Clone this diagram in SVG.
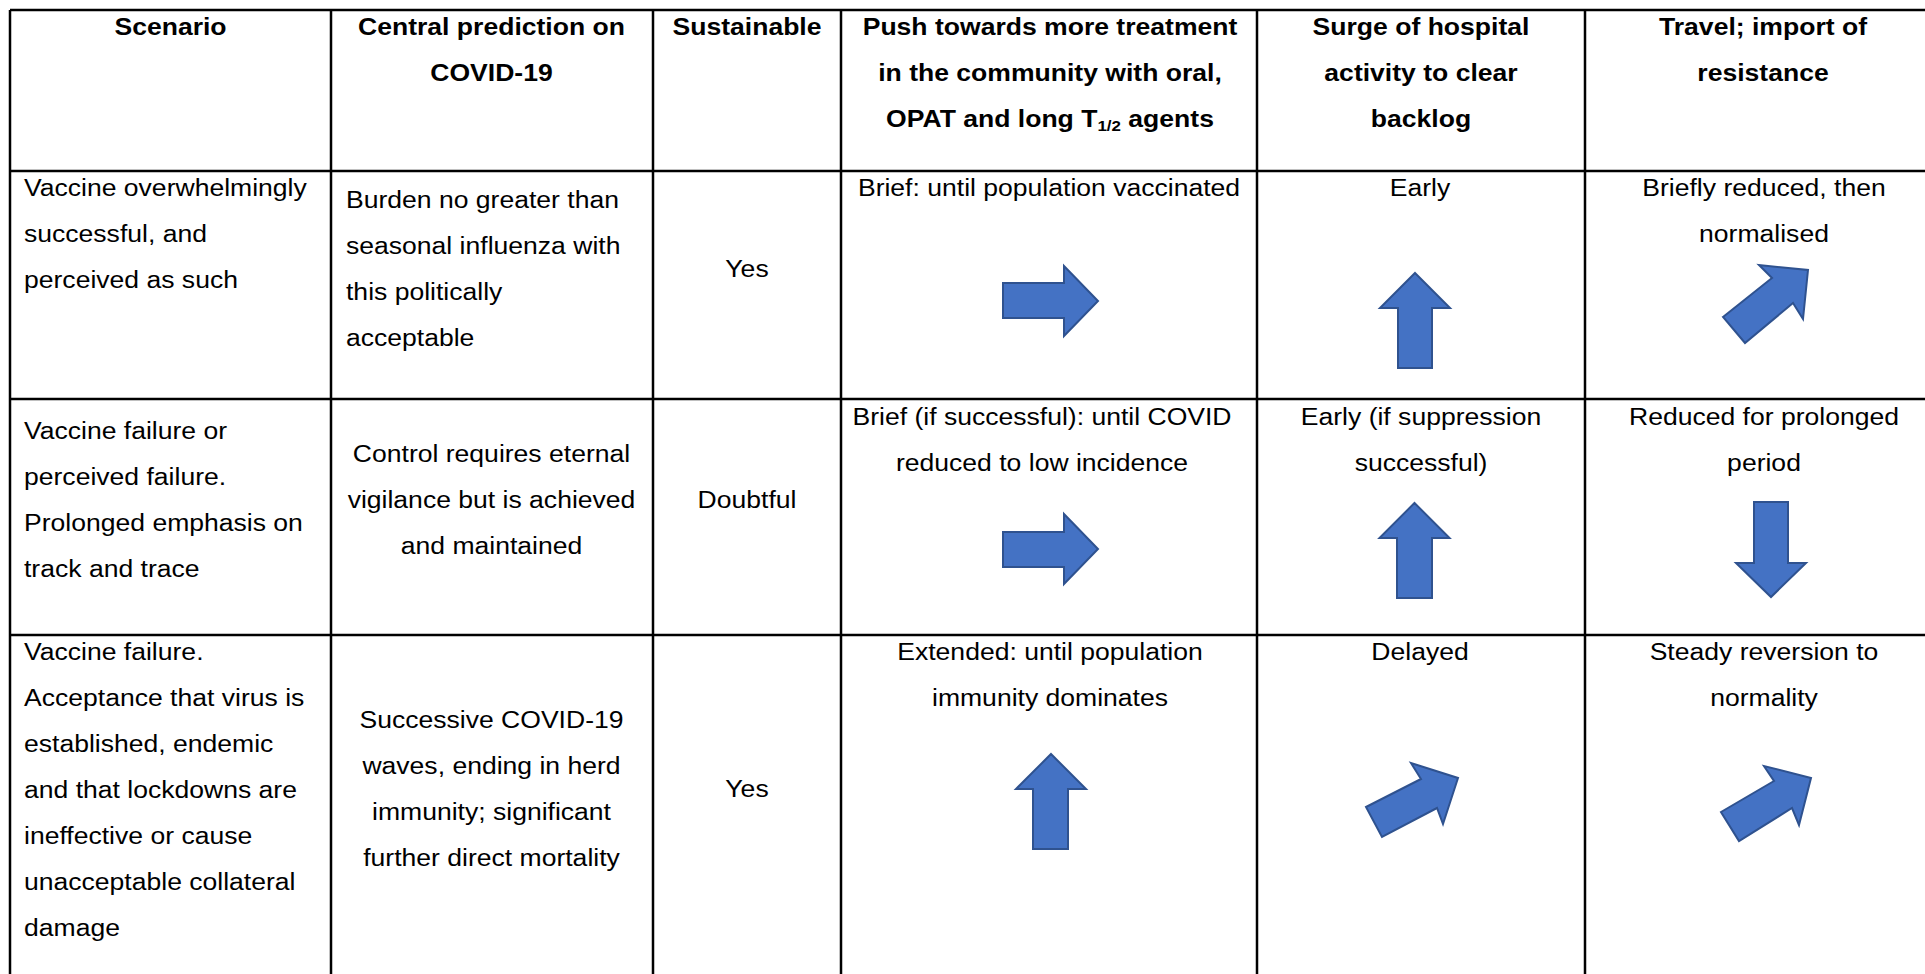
<svg xmlns="http://www.w3.org/2000/svg" width="1925" height="974" viewBox="0 0 1925 974">
<style>
.t{font-family:"Liberation Sans",Arial,sans-serif;font-size:23.5px;fill:#000}
.b{font-weight:bold}
.m{text-anchor:middle}
.grid line{stroke:#000;stroke-width:2.5}
.arr{fill:#4472C4;stroke:#2F528F;stroke-width:2;stroke-linejoin:miter}
</style>
<rect width="1925" height="974" fill="#fff"/>
<g id="grid" class="grid">
<line x1="10" y1="10" x2="1925" y2="10"/>
<line x1="10" y1="171" x2="1925" y2="171"/>
<line x1="10" y1="399" x2="1925" y2="399"/>
<line x1="10" y1="635" x2="1925" y2="635"/>
<line x1="10" y1="10" x2="10" y2="974"/>
<line x1="331" y1="10" x2="331" y2="974"/>
<line x1="653" y1="10" x2="653" y2="974"/>
<line x1="841" y1="10" x2="841" y2="974"/>
<line x1="1257" y1="10" x2="1257" y2="974"/>
<line x1="1585" y1="10" x2="1585" y2="974"/>
</g>
<g id="header">
<text class="t b m" transform="translate(170.5,35) scale(1.13 1)">Scenario</text>
<text class="t b m" transform="translate(491.5,35) scale(1.13 1)"><tspan x="0">Central prediction on</tspan><tspan x="0" dy="46">COVID-19</tspan></text>
<text class="t b m" transform="translate(747,35) scale(1.13 1)">Sustainable</text>
<text class="t b m" transform="translate(1050,35) scale(1.13 1)"><tspan x="0">Push towards more treatment</tspan><tspan x="0" dy="46">in the community with oral,</tspan><tspan x="0" dy="46">OPAT and long T<tspan font-size="15" dy="4">1/2</tspan><tspan dy="-4"> agents</tspan></tspan></text>
<text class="t b m" transform="translate(1421,35) scale(1.13 1)"><tspan x="0">Surge of hospital</tspan><tspan x="0" dy="46">activity to clear</tspan><tspan x="0" dy="46">backlog</tspan></text>
<text class="t b m" transform="translate(1763,35) scale(1.13 1)"><tspan x="0">Travel; import of</tspan><tspan x="0" dy="46">resistance</tspan></text>
</g>
<g id="row1">
<text class="t" transform="translate(24,196) scale(1.13 1)"><tspan x="0">Vaccine overwhelmingly</tspan><tspan x="0" dy="46">successful, and</tspan><tspan x="0" dy="46">perceived as such</tspan></text>
<text class="t" transform="translate(346,208) scale(1.13 1)"><tspan x="0">Burden no greater than</tspan><tspan x="0" dy="46">seasonal influenza with</tspan><tspan x="0" dy="46">this politically</tspan><tspan x="0" dy="46">acceptable</tspan></text>
<text class="t m" transform="translate(747,277) scale(1.13 1)">Yes</text>
<text class="t m" transform="translate(1049,196) scale(1.13 1)">Brief: until population vaccinated</text>
<text class="t m" transform="translate(1420,196) scale(1.13 1)">Early</text>
<text class="t m" transform="translate(1764,196) scale(1.13 1)"><tspan x="0">Briefly reduced, then</tspan><tspan x="0" dy="46">normalised</tspan></text>
</g>
<g id="row2">
<text class="t" transform="translate(24,439) scale(1.13 1)"><tspan x="0">Vaccine failure or</tspan><tspan x="0" dy="46">perceived failure.</tspan><tspan x="0" dy="46">Prolonged emphasis on</tspan><tspan x="0" dy="46">track and trace</tspan></text>
<text class="t m" transform="translate(491.5,462) scale(1.13 1)"><tspan x="0">Control requires eternal</tspan><tspan x="0" dy="46">vigilance but is achieved</tspan><tspan x="0" dy="46">and maintained</tspan></text>
<text class="t m" transform="translate(747,508) scale(1.13 1)">Doubtful</text>
<text class="t m" transform="translate(1042,425) scale(1.13 1)"><tspan x="0">Brief (if successful): until COVID</tspan><tspan x="0" dy="46">reduced to low incidence</tspan></text>
<text class="t m" transform="translate(1421,425) scale(1.13 1)"><tspan x="0">Early (if suppression</tspan><tspan x="0" dy="46">successful)</tspan></text>
<text class="t m" transform="translate(1764,425) scale(1.13 1)"><tspan x="0">Reduced for prolonged</tspan><tspan x="0" dy="46">period</tspan></text>
</g>
<g id="row3">
<text class="t" transform="translate(24,660) scale(1.13 1)"><tspan x="0">Vaccine failure.</tspan><tspan x="0" dy="46">Acceptance that virus is</tspan><tspan x="0" dy="46">established, endemic</tspan><tspan x="0" dy="46">and that lockdowns are</tspan><tspan x="0" dy="46">ineffective or cause</tspan><tspan x="0" dy="46">unacceptable collateral</tspan><tspan x="0" dy="46">damage</tspan></text>
<text class="t m" transform="translate(491.5,728) scale(1.13 1)"><tspan x="0">Successive COVID-19</tspan><tspan x="0" dy="46">waves, ending in herd</tspan><tspan x="0" dy="46">immunity; significant</tspan><tspan x="0" dy="46">further direct mortality</tspan></text>
<text class="t m" transform="translate(747,797) scale(1.13 1)">Yes</text>
<text class="t m" transform="translate(1050,660) scale(1.13 1)"><tspan x="0">Extended: until population</tspan><tspan x="0" dy="46">immunity dominates</tspan></text>
<text class="t m" transform="translate(1420,660) scale(1.13 1)">Delayed</text>
<text class="t m" transform="translate(1764,660) scale(1.13 1)"><tspan x="0">Steady reversion to</tspan><tspan x="0" dy="46">normality</tspan></text>
</g>
<g id="arrows">
<polygon id="a1" class="arr" points="1003,283 1064,283 1064,266 1098,301 1064,336 1064,318 1003,318"/>
<polygon id="a2" class="arr" points="1415,273 1450,308 1432,308 1432,368 1398,368 1398,308 1380,308"/>
<polygon id="a3" class="arr" points="1723,317 1772,278 1759,265 1808,270 1803,319 1793,303 1745,343"/>
<polygon id="a4" class="arr" points="1003,532 1064,532 1064,514 1098,549 1064,584 1064,567 1003,567"/>
<polygon id="a5" class="arr" points="1414.5,503 1449.5,538 1432,538 1432,598 1397,598 1397,538 1379.5,538"/>
<polygon id="a6" class="arr" points="1754,502 1788,502 1788,563 1806,563 1771,597 1736,563 1754,563"/>
<polygon id="a7" class="arr" points="1051,754 1086,789 1068,789 1068,849 1033,849 1033,789 1016,789"/>
<polygon id="a8" class="arr" points="1366,807 1421,779 1411,763 1458,778 1443,824 1437,808 1382,837"/>
<polygon id="a9" class="arr" points="1721,812 1774,781 1764,766 1811,778 1799,825 1792,808 1739,841"/>
</g>
</svg>
